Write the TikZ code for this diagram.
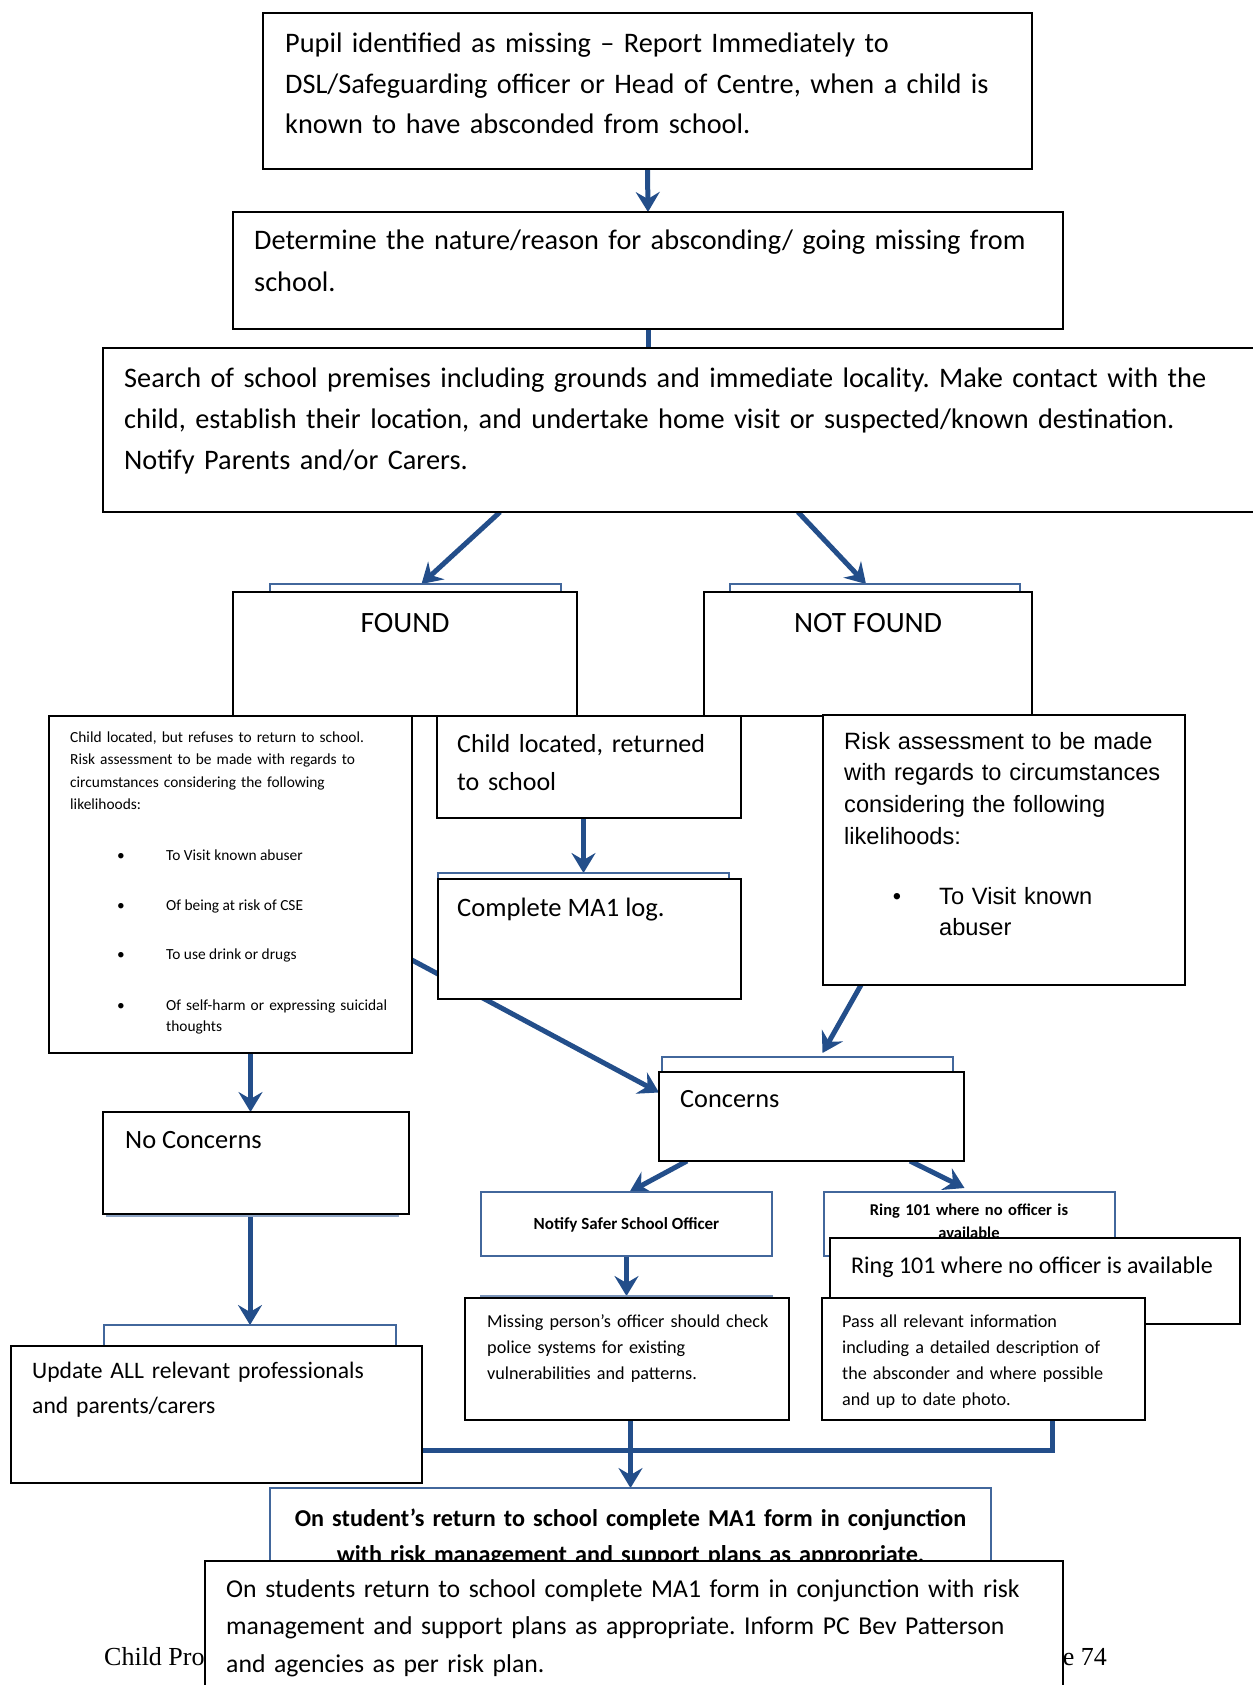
\documentclass[tikz,border=0pt]{standalone}
\usepackage{fontspec}
\setmainfont{Carlito}
\newfontfamily\arialf{Liberation Sans}
\newfontfamily\timesf{Liberation Serif}
\usetikzlibrary{arrows.meta}
\definecolor{arrowblue}{RGB}{35,78,138}
\definecolor{boxblue}{RGB}{66,103,156}
\newcommand\fsz[2]{\fontsize{#1pt}{#2pt}\selectfont}
\pgfdeclarelayer{bg}
\pgfsetlayers{bg,main}
\frenchspacing
\begin{document}
\frenchspacing
\begin{tikzpicture}[x=1pt,y=-1pt,
 box/.style={draw=black,line width=1.8pt,fill=white,inner sep=0pt,outer sep=0pt,anchor=north west},
 bbox/.style={draw=boxblue,line width=2.6pt,fill=white,inner sep=0pt,outer sep=0pt,anchor=north west},
 txt/.style={anchor=base west,inner sep=0pt,align=left},
 ctxt/.style={anchor=base,inner sep=0pt,align=center},
 arr/.style={draw=arrowblue,line width=5pt,-{Stealth[length=20pt,width=24pt,inset=7pt]}},
 conn/.style={draw=arrowblue,line width=5pt}]
\useasboundingbox (0,0) rectangle (1252,1685);

% top chain
\node[box,minimum width=769pt,minimum height=156pt] (b1) at (263,13) {};
\node[txt,text width=740pt,font=\fsz{28.3}{40.5}] (t1) at (285,53) {Pupil identified as missing -- Report Immediately to\\DSL/Safeguarding officer or Head of Centre, when a child is\\known to have absconded from school.};
\node[box,minimum width=830pt,minimum height=117pt] (b2) at (233,212) {};
\node[txt,text width=820pt,font=\fsz{28.3}{42}] (t2) at (254,250) {Determine the nature/reason for absconding/ going missing from\\school.};
\node[box,minimum width=1160pt,minimum height=164pt] (b3) at (103,348) {};
\node[txt,text width=1130pt,font=\fsz{28.3}{41}] (t3) at (124,387) {Search of school premises including grounds and immediate locality. Make contact with the\\child, establish their location, and undertake home visit or suspected/known destination.\\Notify Parents and/or Carers.};

% found / not found
\node[bbox,minimum width=291pt,minimum height=40pt] (fb) at (270,584) {};
\node[box,minimum width=344pt,minimum height=124pt] (fd) at (233,592) {};
\node[ctxt,font=\fsz{29.5}{32}] (tfd) at (405,632) {FOUND};
\node[bbox,minimum width=290pt,minimum height=40pt] (nb) at (730,584) {};
\node[box,minimum width=328pt,minimum height=124pt] (nf) at (704,592) {};
\node[ctxt,font=\fsz{29.5}{32}] (tnf) at (868,632) {NOT FOUND};

% refuses box
\node[box,minimum width=363pt,minimum height=337pt] (r1) at (49,716) {};
\node[txt,text width=345pt,font=\fsz{15.4}{22.6}] (tr1) at (70,742) {Child located, but refuses to return to school.\\Risk assessment to be made with regards to\\circumstances considering the following\\likelihoods:};
\node[anchor=base,inner sep=0pt,font=\fsz{15.4}{20}] (bu1) at (121,860) {•};
\node[txt,font=\fsz{15.4}{20}] (tb1) at (166,860) {To Visit known abuser};
\node[anchor=base,inner sep=0pt,font=\fsz{15.4}{20}] (bu2) at (121,910) {•};
\node[txt,font=\fsz{15.4}{20}] (tb2) at (166,910) {Of being at risk of CSE};
\node[anchor=base,inner sep=0pt,font=\fsz{15.4}{20}] (bu3) at (121,959) {•};
\node[txt,font=\fsz{15.4}{20}] (tb3) at (166,959) {To use drink or drugs};
\node[anchor=base,inner sep=0pt,font=\fsz{15.4}{20}] (bu4) at (121,1010) {•};
\node[txt,text width=240pt,font=\fsz{15.4}{21.5}] (tb4) at (166,1010) {Of self-harm or expressing suicidal\\thoughts};

% child located returned
\node[box,minimum width=304pt,minimum height=102pt] (c1) at (437,716) {};
\node[txt,text width=285pt,font=\fsz{26}{38}] (tc1) at (457,752) {Child located, returned\\to school};

% risk right
\node[box,minimum width=362pt,minimum height=270pt] (r2) at (823,715) {};
\node[txt,text width=345pt,font=\arialf\fsz{23.6}{31.7}] (tr2) at (844,749) {Risk assessment to be made\\with regards to circumstances\\considering the following\\likelihoods:};
\node[anchor=base,inner sep=0pt,font=\arialf\fsz{23.6}{31}] (bu5) at (897,904) {•};
\node[txt,text width=240pt,font=\arialf\fsz{23.6}{31.5}] (tb5) at (939,904) {To Visit known\\abuser};

% MA1 log
\node[bbox,minimum width=291pt,minimum height=40pt] (mb) at (438,873) {};
\node[box,minimum width=303pt,minimum height=120pt] (m1) at (438,879) {};
\node[txt,font=\fsz{26.6}{30}] (tm1) at (457,916) {Complete MA1 log.};

% concerns
\node[bbox,minimum width=291pt,minimum height=40pt] (cb) at (662,1057) {};
\node[box,minimum width=305pt,minimum height=89pt] (cn) at (659,1072) {};
\node[txt,font=\fsz{26.3}{30}] (tcn) at (680,1107) {Concerns};

% no concerns
\node[draw=boxblue!60,line width=1.2pt,inner sep=0pt,outer sep=0pt,anchor=north west,minimum width=291pt,minimum height=96pt] (ncb) at (107,1120) {};
\node[box,minimum width=306pt,minimum height=102pt] (nc) at (103,1112) {};
\node[txt,font=\fsz{26.4}{30}] (tnc) at (125,1148) {No Concerns};

% update
\node[bbox,minimum width=292pt,minimum height=40pt] (ub) at (104,1325) {};
\node[box,minimum width=411pt,minimum height=137pt] (up) at (11,1346) {};
\node[txt,text width=385pt,font=\fsz{23.6}{35}] (tup) at (32,1378) {Update ALL relevant professionals\\and parents/carers};

% notify / ring
\node[bbox,minimum width=291pt,minimum height=64pt] (ns) at (481,1192) {};
\node[ctxt,font=\bfseries\fsz{17}{20}] (tns) at (626.5,1229) {Notify Safer School Officer};
\node[bbox,minimum width=291pt,minimum height=64pt] (rs) at (824,1192) {};
\node[ctxt,text width=285pt,font=\bfseries\fsz{16.5}{23}] (trs) at (969,1215) {Ring 101 where no officer is\\available};
\node[box,minimum width=410pt,minimum height=86pt] (rb) at (830,1238) {};
\node[txt,font=\fsz{24}{28}] (trb) at (851,1273) {Ring 101 where no officer is available};

% missing person / pass all
\node[draw=boxblue!70,line width=1.2pt,inner sep=0pt,outer sep=0pt,anchor=north west,minimum width=291pt,minimum height=40pt] (mpb) at (481,1296) {};
\node[box,minimum width=324pt,minimum height=122pt] (mp) at (465,1298) {};
\node[txt,text width=315pt,font=\fsz{18.2}{26.3}] (tmp) at (487,1327) {Missing person’s officer should check\\police systems for existing\\vulnerabilities and patterns.};
\node[box,minimum width=323pt,minimum height=122pt] (pa) at (822,1298) {};
\node[txt,text width=300pt,font=\fsz{18.2}{26}] (tpa) at (842,1327) {Pass all relevant information\\including a detailed description of\\the absconder and where possible\\and up to date photo.};

% footer (behind)
\begin{pgfonlayer}{bg}
\node[txt,font=\timesf\fsz{26}{30}] (fl) at (104,1665) {Child Pro};
\node[anchor=base east,inner sep=0pt,font=\timesf\fsz{26}{30}] (fr) at (1107,1665) {Page 74};
\end{pgfonlayer}

% final boxes
\node[bbox,minimum width=721pt,minimum height=100pt] (fb2) at (270,1488) {};
\node[ctxt,text width=710pt,font=\bfseries\fsz{24.2}{36}] (tfb2) at (630.5,1526) {On student’s return to school complete MA1 form in conjunction\\with risk management and support plans as appropriate.};
\node[box,minimum width=858pt,minimum height=150pt] (fin) at (205,1561) {};
\node[txt,text width=835pt,font=\fsz{25.7}{37.5}] (tfin) at (226,1597) {On students return to school complete MA1 form in conjunction with risk\\management and support plans as appropriate. Inform PC Bev Patterson\\and agencies as per risk plan.};

% connectors
\begin{pgfonlayer}{bg}
\coordinate (d1) at (300,900);
\draw[arr] (b1.south) -- (b2.north);
\draw[conn] (b2.south) -- (b2.south |- b3.north);
\draw[arr] ([xshift=397pt]b3.south west) -- ([xshift=6pt]fb.north);
\draw[arr] ([xshift=695pt]b3.south west) -- ([xshift=-9pt]nb.north);
\draw[arr] (mb.north |- c1.south) -- (mb.north);
\draw[arr] (d1) -- ([yshift=24pt]cn.west);
\draw[arr] ([xshift=38pt]r2.south west) -- ([xshift=15pt,yshift=4pt]cb.north);
\draw[arr] ([xshift=20pt]r1.south) -- ([xshift=20pt]r1.south |- nc.north);
\draw[arr] ([xshift=-6pt]nc.south) -- ([xshift=-6pt]nc.south |- ub.north);
\draw[arr] ([xshift=28pt]cn.south west) -- ([xshift=3pt]ns.north);
\draw[arr] ([xshift=251pt]cn.south west) -- ([xshift=-5pt,yshift=4pt]rs.north);
\draw[arr] (ns.south) -- (ns.south |- mpb.north);
\draw[arr] (fb2.north |- mp.south) -- (fb2.north);
\draw[conn] ([yshift=-35.5pt]up.east) -| ([xshift=-93pt]pa.south east);
\end{pgfonlayer}
\end{tikzpicture}
\end{document}
